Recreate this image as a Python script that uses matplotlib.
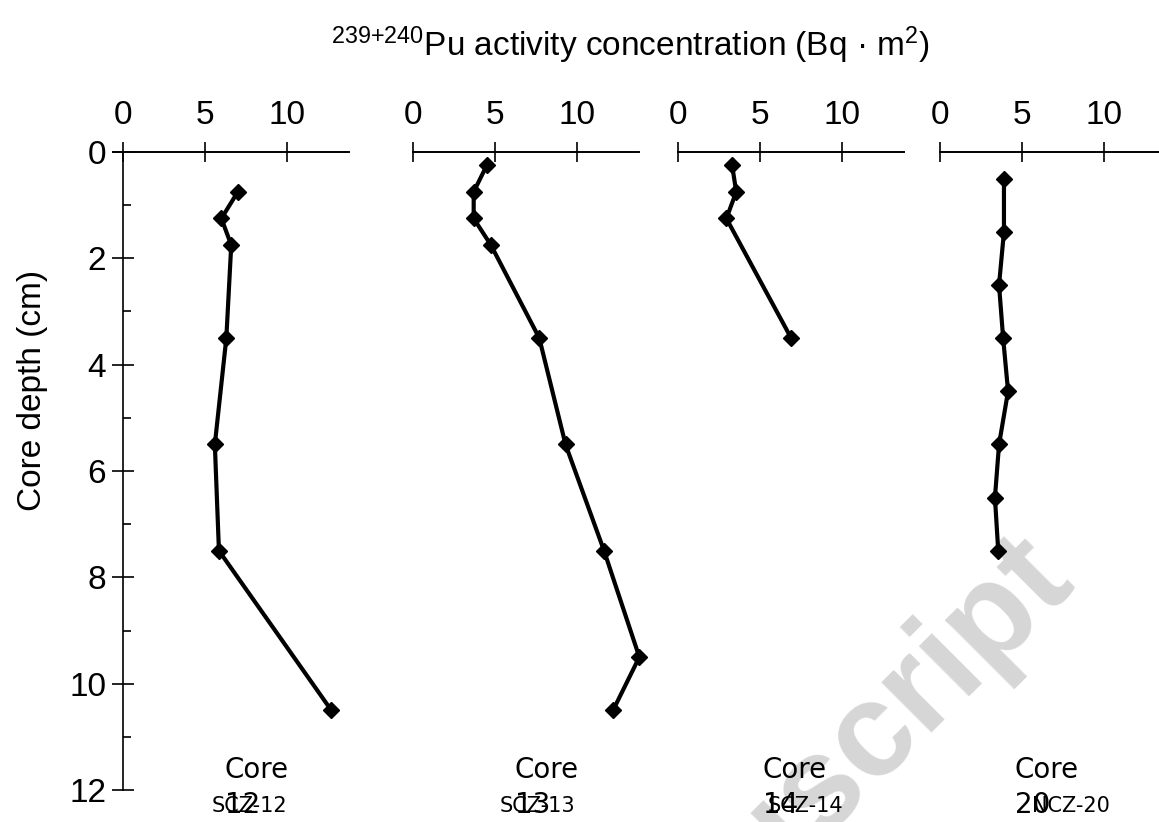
# профили Pu по глубине для четырёх кернов
import matplotlib.pyplot as plt
from matplotlib.ticker import MultipleLocator

plt.rcParams['font.family'] = ['Liberation Sans', 'DejaVu Sans']
plt.rcParams['mathtext.default'] = 'regular'

core_names = ["12", "13", "14", "20"]
site_labels = ["SCZ-12", "SCZ-13", "SCZ-14", "NCZ-20"]

depth_12 = [0.75, 1.25, 1.75, 3.5, 5.5, 7.5, 10.5]
pu_12 = [7.0, 6.0, 6.6, 6.3, 5.6, 5.85, 12.7]

depth_13 = [0.25, 0.75, 1.25, 1.75, 3.5, 5.5, 7.5, 9.5, 10.5]
pu_13 = [4.5, 3.7, 3.7, 4.75, 7.7, 9.3, 11.65, 13.8, 12.2]

depth_14 = [0.25, 0.75, 1.25, 3.5]
pu_14 = [3.3, 3.55, 2.95, 6.9]

depth_20 = [0.5, 1.5, 2.5, 3.5, 4.5, 5.5, 6.5, 7.5]
pu_20 = [3.9, 3.9, 3.6, 3.85, 4.15, 3.6, 3.35, 3.55]

depths = [depth_12, depth_13, depth_14, depth_20]
values = [pu_12, pu_13, pu_14, pu_20]

W, H = 1159, 822
fig = plt.figure(figsize=(W / 100, H / 100), dpi=100)

# водяной знак (под всем остальным)
fig.text(1075 / W, 1 - 580 / H, "Manuscript", rotation=45, fontsize=96, fontweight="bold",
         family="Liberation Sans", color="#d6d6d6", ha="right", va="baseline",
         rotation_mode="anchor", zorder=-10)

# левый край (пиксели) для x=0 у каждой панели
x0_px = [123, 413, 678, 940]
unit_px = 16.4
y_top, y_bot = 152, 790
x_max = 13.8

for i, (d, v) in enumerate(zip(depths, values)):
    x_min = -0.6 if i == 0 else 0
    left = x0_px[i] + x_min * unit_px
    width = (x_max - x_min) * unit_px
    ax = fig.add_axes([left / W, 1 - y_bot / H, width / W, (y_bot - y_top) / H])
    ax.set_xlim(x_min, x_max)
    ax.set_ylim(12, 0)
    ax.plot(v, d, "-", color="black", lw=3, marker="D", markersize=8.5, clip_on=False)

    ax.xaxis.tick_top()
    ax.set_xticks([0, 5, 10])
    ax.tick_params(axis="x", direction="inout", length=14, width=1.2, pad=8, labelsize=24)
    for s in ["bottom", "right"]:
        ax.spines[s].set_visible(False)
    ax.spines["top"].set_linewidth(1.4)

    if i == 0:
        ax.spines["left"].set_position(("data", 0))
        ax.spines["left"].set_linewidth(1.2)
        ax.set_yticks(range(0, 13, 2))
        ax.yaxis.set_minor_locator(MultipleLocator(1))
        ax.tick_params(axis="y", which="major", direction="inout", length=16, width=1.2, pad=4, labelsize=24)
        ax.tick_params(axis="y", which="minor", direction="in", length=6, width=1.2)
    else:
        ax.spines["left"].set_visible(False)
        ax.set_yticks([])

    ax.patch.set_alpha(0)

# подписи кернов внизу (наложены как в оригинале)
core_left = [225, 515, 763, 1015]
site_left = [212, 500, 768, 1032]
for i in range(4):
    fig.text(core_left[i] / W, 1 - 770 / H, "Core", fontsize=20, family="DejaVu Sans", va="center", ha="left")
    fig.text(core_left[i] / W, 1 - 805 / H, core_names[i], fontsize=20, family="DejaVu Sans", va="center", ha="left")
    fig.text(site_left[i] / W, 1 - 806 / H, site_labels[i], fontsize=15, family="DejaVu Sans", va="center", ha="left")

fig.text(33 / W, 1 - 390 / H, "Core depth (cm)", rotation=90, fontsize=24, va="center", ha="center")
fig.text(630 / W, 1 - 45 / H, "$^{239{+}240}$Pu activity concentration (Bq · m$^{2}$)",
         fontsize=24, va="center", ha="center")

fig.savefig("out.png", dpi=100)
